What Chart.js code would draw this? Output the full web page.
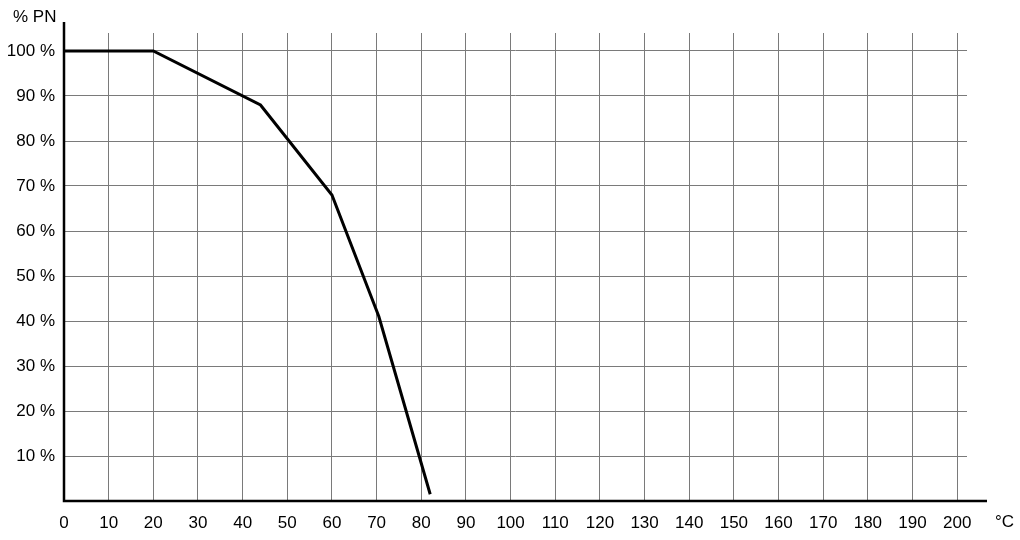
<!DOCTYPE html>
<html>
<head>
<meta charset="utf-8">
<script src="https://cdn.jsdelivr.net/npm/chart.js@4"></script>
<style>
  html, body { margin: 0; padding: 0; background: #fff; }
  #wrap { width: 1020px; height: 540px; position: relative; }
</style>
</head>
<body>
<div id="wrap"><canvas id="chart" width="1020" height="540"></canvas></div>
<script>
// --- Data ---
const tempC = [0, 20, 44, 60, 70.5, 82];
const pressurePct = [100, 100, 88, 68, 41, 1.5];
const yUnitLabel = '% PN';
const xUnitLabel = '°C';

const FONT = '"Liberation Sans", Arial, Helvetica, sans-serif';

// --- Axis lines + unit labels, drawn past the plot area like the original ---
const axisPlugin = {
  id: 'axisLines',
  afterDraw(chart) {
    const { ctx, chartArea, scales } = chart;
    const x0 = scales.x.getPixelForValue(0);
    const y0 = scales.y.getPixelForValue(0);
    ctx.save();
    ctx.strokeStyle = '#000';
    ctx.lineWidth = 2.5;
    ctx.beginPath();
    ctx.moveTo(x0, chartArea.top - 11);
    ctx.lineTo(x0, y0);
    ctx.lineTo(chartArea.right + 20, y0);
    ctx.stroke();

    ctx.fillStyle = '#000';
    ctx.font = '17px ' + FONT;
    ctx.textBaseline = 'middle';
    ctx.textAlign = 'left';
    ctx.fillText(yUnitLabel, 13, 17);
    ctx.fillText(xUnitLabel, 995, 522);
    ctx.restore();
  }
};

const chart = new Chart(document.getElementById('chart'), {
  type: 'line',
  data: {
    datasets: [{
      data: tempC.map((t, i) => ({ x: t, y: pressurePct[i] })),
      borderColor: '#000',
      borderWidth: 3,
      pointRadius: 0,
      tension: 0,
      fill: false
    }]
  },
  options: {
    responsive: false,
    animation: false,
    layout: { padding: { top: 33, right: 53, left: 0, bottom: 0 } },
    plugins: { legend: { display: false }, tooltip: { enabled: false } },
    scales: {
      x: {
        type: 'linear',
        min: 0,
        max: 202.2,
        afterFit: s => { s.height = 39; },
        border: { display: false },
        grid: { color: '#7a7a7a', lineWidth: 1, drawTicks: false },
        ticks: {
          stepSize: 10,
          includeBounds: false,
          autoSkip: false,
          maxRotation: 0,
          padding: 12,
          color: '#000',
          font: { family: FONT, size: 17 }
        }
      },
      y: {
        min: 0,
        max: 104,
        afterFit: s => { s.width = 64; },
        border: { display: false },
        grid: { color: '#7a7a7a', lineWidth: 1, drawTicks: false },
        ticks: {
          stepSize: 10,
          includeBounds: false,
          padding: 9,
          color: '#000',
          font: { family: FONT, size: 17 },
          callback: v => (v > 0 && v <= 100) ? v + ' %' : ''
        }
      }
    }
  },
  plugins: [axisPlugin]
});
</script>
</body>
</html>
